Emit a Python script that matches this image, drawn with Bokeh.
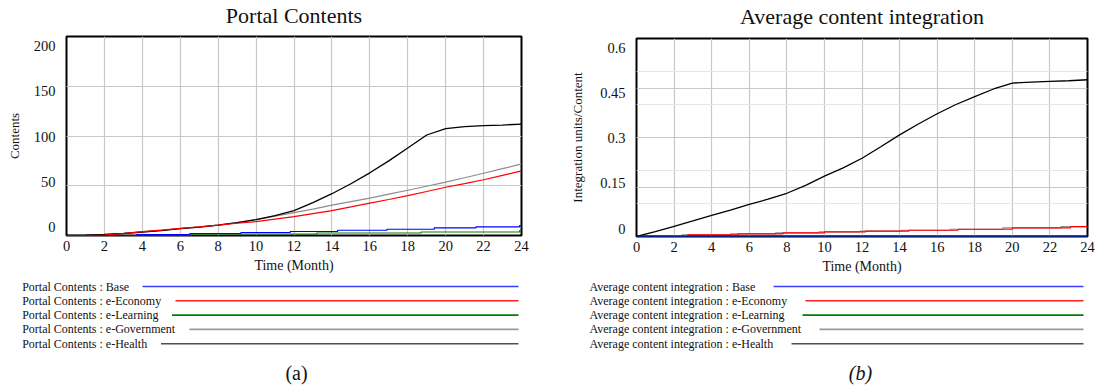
from bokeh.plotting import figure
from bokeh.models import Range1d, LinearAxis, FixedTicker, Grid, Title
from bokeh.layouts import row, column
from bokeh.embed import file_html
from bokeh.resources import INLINE
from bokeh.core.properties import value

FONT = "Liberation Serif"

# ---------------- data ----------------
months = [0, 1, 2, 3, 4, 5, 6, 7, 8, 9, 10, 11, 12, 13, 14, 15, 16, 17, 18, 19, 20, 21, 22, 23, 24]
series_names = ["Base", "e-Economy", "e-Learning", "e-Government", "e-Health"]

# (a) Portal Contents
pc_health = [0, 0.3, 1.0, 2.0, 3.5, 5.0, 7.0, 8.5, 10.5, 13.0, 16.0, 20.0, 25.0, 33.0, 42.0,
             52.0, 63.0, 75.0, 88.0, 101.0, 107.5, 109.5, 110.5, 111.0, 112.0]
pc_government = [0, 0.3, 1.0, 2.0, 3.5, 5.0, 7.0, 8.5, 10.5, 13.0, 16.0, 19.5, 23.0, 26.5, 30.5,
                 34.0, 37.5, 41.5, 45.5, 49.5, 53.6, 58.0, 62.6, 67.2, 72.0]
pc_economy = [0, 0, 0.5, 2.0, 3.8, 5.5, 7.2, 8.8, 10.5, 12.3, 14.0, 16.5, 19.0, 22.0, 25.0,
              28.7, 32.5, 36.2, 40.0, 44.2, 48.5, 52.2, 56.0, 60.5, 65.0]
pc_base_t = [0, 3.7, 6.5, 9.2, 11.8, 14.3, 16.9, 19.4, 21.6, 23.9, 24]
pc_base_v = [0, 1.0, 2.0, 3.0, 4.0, 5.3, 6.3, 7.7, 8.7, 10.0, 10.0]
pc_learning_t = [0, 6.6, 13.2, 18.7, 23.9, 24]
pc_learning_v = [0, 1.5, 2.5, 3.5, 5.0, 5.0]
pc_yticks = [0, 50, 100, 150, 200]
pc_ylabels = ["0", "50", "100", "150", "200"]

# (b) Average content integration
aci_health = [0, 0.015, 0.031, 0.047, 0.064, 0.080, 0.097, 0.113, 0.131, 0.155, 0.183, 0.208,
              0.237, 0.272, 0.308, 0.341, 0.372, 0.400, 0.424, 0.447, 0.465, 0.468, 0.470,
              0.472, 0.475]
aci_base = [0.0, 0.0, 0.0, 0.0, 0.0, 0.0, 0.0, 0.0, 0.0, 0.0, 0.0, 0.0, 0.0, 0.0, 0.0, 0.0,
            0.0, 0.0, 0.0, 0.0, 0.0, 0.0, 0.0, 0.0, 0.0]
aci_learning = [0.0, 0.0, 0.0, 0.0, 0.0, 0.0, 0.0, 0.0, 0.0, 0.0, 0.0, 0.0, 0.0, 0.0, 0.0, 0.0,
                0.0, 0.0, 0.0, 0.0, 0.0, 0.0, 0.0, 0.0, 0.0]
aci_economy_t = [2.7, 5.4, 7.8, 10.0, 12.2, 14.5, 17.1, 20.0, 23.1, 24]
aci_economy_v = [0.005, 0.008, 0.011, 0.014, 0.016, 0.019, 0.022, 0.026, 0.030, 0.030]
aci_government_t = [2.4, 5.0, 7.4, 9.7, 11.9, 14.1, 16.7, 19.5, 22.6, 24]
aci_government_v = [0.005, 0.008, 0.011, 0.014, 0.016, 0.019, 0.022, 0.026, 0.030, 0.030]
aci_yticks = [0, 0.15, 0.3, 0.45, 0.6]
aci_ylabels = ["0", "0.15", "0.3", "0.45", "0.6"]

x_ticks = [0, 2, 4, 6, 8, 10, 12, 14, 16, 18, 20, 22, 24]

C_BASE, C_ECO, C_LEARN, C_GOV, C_HEALTH = "#0000ff", "#ff0000", "#008000", "#8c8c8c", "#000000"
legend_colors = ["#3c3cff", "#ff2020", "#008000", "#9a9a9a", "#505050"]

CHART_H = 278
LEG_H = 108
GRID_C = "#c8c8c8"
TEXT_C = "#111111"


def make_chart(title, ylabel, yticks, ylabels, label_range, width, b_left, b_right, b_top,
               b_bottom, spacer_standoff, ylabel_standoff):
    p = figure(width=width, height=CHART_H, x_range=Range1d(0, 24),
               y_range=Range1d(yticks[0], yticks[-1]), y_axis_location=None,
               toolbar_location=None, output_backend="svg", title=None,
               min_border_left=b_left, min_border_right=b_right,
               min_border_top=b_top, min_border_bottom=b_bottom)
    p.frame_align = False
    # small spacer next to the frame, then the real title above it
    p.add_layout(Title(text=" ", text_font_size="6px", standoff=spacer_standoff), "above")
    p.add_layout(Title(text=title, text_font=FONT, text_font_size="22px",
                       text_font_style="normal", text_color=TEXT_C, align="center",
                       standoff=0), "above")
    p.outline_line_color = "black"
    p.outline_line_width = 2
    p.outline_line_alpha = 1
    p.border_fill_color = "white"
    p.background_fill_color = "white"

    xa = p.xaxis[0]
    xa.ticker = FixedTicker(ticks=x_ticks)
    xa.axis_label = "Time (Month)"
    xa.axis_label_text_font = FONT
    xa.axis_label_text_font_size = "14px"
    xa.axis_label_text_font_style = "normal"
    xa.axis_label_text_color = TEXT_C
    xa.major_label_text_font = FONT
    xa.major_label_text_font_size = "14.5px"
    xa.major_label_text_color = TEXT_C
    xa.axis_line_color = None
    xa.major_tick_line_color = None
    xa.minor_tick_line_color = None
    xa.major_tick_out = 0
    xa.major_tick_in = 0
    xa.minor_tick_out = 0
    xa.minor_tick_in = 0
    xa.major_label_standoff = 5
    xa.axis_label_standoff = 4
    p.xgrid.grid_line_color = GRID_C
    p.xgrid.grid_line_width = 1.2

    p.add_layout(Grid(dimension=1, ticker=FixedTicker(ticks=yticks),
                      grid_line_color=GRID_C, grid_line_width=1.2))

    p.extra_y_ranges = {"lab": Range1d(label_range[0], label_range[1])}
    ya = LinearAxis(y_range_name="lab", ticker=FixedTicker(ticks=yticks),
                    major_label_overrides={t: s for t, s in zip(yticks, ylabels)},
                    axis_label=ylabel)
    ya.axis_line_color = None
    ya.major_tick_line_color = None
    ya.minor_tick_line_color = None
    ya.major_tick_out = 0
    ya.major_tick_in = 0
    ya.minor_tick_out = 0
    ya.minor_tick_in = 0
    ya.major_label_standoff = 11
    ya.major_label_text_font = FONT
    ya.major_label_text_font_size = "14.5px"
    ya.major_label_text_color = TEXT_C
    ya.axis_label_text_font = FONT
    ya.axis_label_text_font_size = "13px"
    ya.axis_label_text_font_style = "normal"
    ya.axis_label_text_color = TEXT_C
    ya.axis_label_standoff = ylabel_standoff
    p.add_layout(ya, "left")
    return p


def make_legend(width, prefix, text_x, line_starts, line_end, caption, caption_x, caption_style):
    lg = figure(width=width, height=LEG_H, x_range=Range1d(0, width), y_range=Range1d(LEG_H, 0),
                toolbar_location=None, output_backend="svg",
                min_border_left=0, min_border_right=0, min_border_top=0, min_border_bottom=0,
                x_axis_location=None, y_axis_location=None)
    lg.frame_align = False
    lg.outline_line_color = None
    lg.grid.visible = False
    ys = [8, 22.3, 36.6, 50.9, 65.2]
    lg.text(x=[text_x] * 5, y=ys, text=[f"{prefix} : {n}" for n in series_names],
            text_font=value(FONT), text_font_size="12px", text_color=TEXT_C,
            text_align="left", text_baseline="middle")
    lg.segment(x0=line_starts, y0=ys, x1=[line_end] * 5, y1=ys,
               line_color=legend_colors, line_width=1.6)
    lg.text(x=[caption_x], y=[94], text=[caption], text_font=value(FONT),
            text_font_size="20px", text_font_style=caption_style, text_color=TEXT_C,
            text_align="center", text_baseline="middle")
    return lg


# ---------------- chart (a) ----------------
pa = make_chart("Portal Contents", "Contents", pc_yticks, pc_ylabels, (-8.8, 209.9),
                548, 66, 27, 36, 43, 1, 9)
pa.line(months, pc_government, line_color=C_GOV, line_width=1.2)
pa.line(months, pc_health, line_color=C_HEALTH, line_width=1.3)
pa.line(months, pc_economy, line_color=C_ECO, line_width=1.2)
pa.step(pc_learning_t, pc_learning_v, mode="after", line_color=C_LEARN, line_width=1.2)
pa.step(pc_base_t, pc_base_v, mode="after", line_color=C_BASE, line_width=1.2)

la = make_legend(548, "Portal Contents", 21.7, [142, 175, 171.5, 189, 160.5], 518,
                 "(a)", 296, "normal")

# ---------------- chart (b) ----------------
pb = make_chart("Average content integration", "Integration units/Content", aci_yticks,
                aci_ylabels, (-0.0265, 0.630), 548, 88, 9, 38, 42, 2, 12)
pb.step(aci_government_t, aci_government_v, mode="after", line_color=C_GOV, line_width=1.2)
pb.line(months, aci_health, line_color=C_HEALTH, line_width=1.3)
pb.step(aci_economy_t, aci_economy_v, mode="after", line_color=C_ECO, line_width=1.2)
pb.line(months, aci_learning, line_color=C_LEARN, line_width=1.5)
pb.line(months, aci_base, line_color=C_BASE, line_width=2)

lb = make_legend(548, "Average content integration", 41, [225, 257, 254, 271, 243], 535,
                 "(b)", 312, "italic")

layout = row(column(pa, la), column(pb, lb))

open("out.html", "w").write(file_html(layout, INLINE))
